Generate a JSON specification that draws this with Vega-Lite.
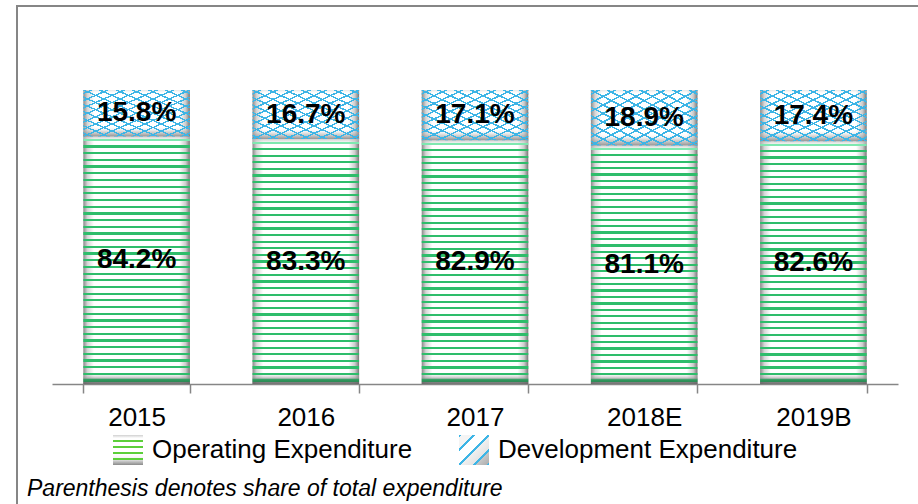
{
  "$schema": "https://vega.github.io/schema/vega-lite/v6.json",
  "autosize": {"type": "none"},
  "width": 905,
  "height": 502,
  "padding": {"left": 17, "top": 6, "right": -4, "bottom": -4},
  "background": "#ffffff",
  "config": {
    "view": {"stroke": "#868686", "strokeWidth": 2},
    "font": "Liberation Sans"
  },
  "title": {
    "text": "Parenthesis denotes share of total expenditure",
    "orient": "bottom",
    "anchor": "start",
    "frame": "group",
    "offset": -12,
    "baseline": "alphabetic",
    "dx": 10,
    "font": "Liberation Sans",
    "fontSize": 23,
    "fontStyle": "italic",
    "fontWeight": "normal",
    "color": "#000000"
  },
  "data": {
    "values": [
      {"year": "2015", "type": "Operating Expenditure", "value": 84.2, "order": 1},
      {"year": "2015", "type": "Development Expenditure", "value": 15.8, "order": 2},
      {"year": "2016", "type": "Operating Expenditure", "value": 83.3, "order": 1},
      {"year": "2016", "type": "Development Expenditure", "value": 16.7, "order": 2},
      {"year": "2017", "type": "Operating Expenditure", "value": 82.9, "order": 1},
      {"year": "2017", "type": "Development Expenditure", "value": 17.1, "order": 2},
      {"year": "2018E", "type": "Operating Expenditure", "value": 81.1, "order": 1},
      {"year": "2018E", "type": "Development Expenditure", "value": 18.9, "order": 2},
      {"year": "2019B", "type": "Operating Expenditure", "value": 82.6, "order": 1},
      {"year": "2019B", "type": "Development Expenditure", "value": 17.4, "order": 2}
    ]
  },
  "transform": [
    {"stack": "value", "groupby": ["year"], "sort": [{"field": "order", "order": "ascending"}], "as": ["v0", "v1"]},
    {"calculate": "(datum.v0 + datum.v1) / 2", "as": "mid"},
    {"calculate": "format(datum.value, '.1f') + '%'", "as": "label"}
  ],
  "encoding": {
    "x": {
      "field": "year",
      "type": "nominal",
      "sort": null,
      "scale": {"range": [35, 881], "paddingInner": 0.37, "paddingOuter": 0.185},
      "axis": {
        "title": null,
        "orient": "bottom",
        "offset": -124,
        "labelAngle": 0,
        "labelFont": "Liberation Sans",
        "labelFontSize": 26,
        "labelColor": "#000000",
        "labelBaseline": "alphabetic",
        "labelPadding": 32,
        "tickBand": "extent",
        "tickSize": 9,
        "tickColor": "#868686",
        "tickWidth": 1.5,
        "domainColor": "#868686",
        "domainWidth": 1.5,
        "grid": false
      }
    }
  },
  "resolve": {"scale": {"opacity": "independent"}, "legend": {"opacity": "independent"}},
  "layer": [
    {
      "mark": {
        "type": "bar",
        "fill": {
          "gradient": "linear", "x1": 0, "y1": 0, "x2": 1, "y2": 0,
          "stops": [
            {"offset": 0, "color": "#8a8a8a"},
            {"offset": 0.04, "color": "#d6d6d6"},
            {"offset": 0.1, "color": "#ffffff"},
            {"offset": 0.9, "color": "#ffffff"},
            {"offset": 0.96, "color": "#cdcdcd"},
            {"offset": 1, "color": "#777777"}
          ]
        }
      },
      "encoding": {
        "y": {"field": "v0", "type": "quantitative", "scale": {"domain": [0, 100], "range": [378, 84], "nice": false, "zero": true}, "axis": null},
        "y2": {"field": "v1"}
      }
    },
    {
      "transform": [{"filter": "datum.type === 'Operating Expenditure'"}],
      "mark": {
        "type": "bar",
        "fill": {
          "gradient": "linear", "x1": 0, "y1": 0, "x2": 0, "y2": 1,
          "stops": [
            {"offset": 0, "color": "rgba(190,190,190,0.7)"}, {"offset": 0.012, "color": "rgba(220,220,220,0.4)"}, {"offset": 0.012, "color": "#7ee8b0"}, {"offset": 0.018, "color": "#7ee8b0"}, {"offset": 0.018, "color": "rgba(255,255,255,0)"},
            {"offset": 0.036, "color": "rgba(255,255,255,0)"}, {"offset": 0.036, "color": "#2ebd6b"}, {"offset": 0.045, "color": "#2ebd6b"}, {"offset": 0.045, "color": "rgba(255,255,255,0)"},
            {"offset": 0.0631, "color": "rgba(255,255,255,0)"}, {"offset": 0.0631, "color": "#2ebd6b"}, {"offset": 0.0721, "color": "#2ebd6b"}, {"offset": 0.0721, "color": "rgba(255,255,255,0)"},
            {"offset": 0.0901, "color": "rgba(255,255,255,0)"}, {"offset": 0.0901, "color": "#2ebd6b"}, {"offset": 0.0991, "color": "#2ebd6b"}, {"offset": 0.0991, "color": "rgba(255,255,255,0)"},
            {"offset": 0.1171, "color": "rgba(255,255,255,0)"}, {"offset": 0.1171, "color": "#2ebd6b"}, {"offset": 0.1261, "color": "#2ebd6b"}, {"offset": 0.1261, "color": "rgba(255,255,255,0)"},
            {"offset": 0.1441, "color": "rgba(255,255,255,0)"}, {"offset": 0.1441, "color": "#2ebd6b"}, {"offset": 0.1531, "color": "#2ebd6b"}, {"offset": 0.1531, "color": "rgba(255,255,255,0)"},
            {"offset": 0.1712, "color": "rgba(255,255,255,0)"}, {"offset": 0.1712, "color": "#2ebd6b"}, {"offset": 0.1802, "color": "#2ebd6b"}, {"offset": 0.1802, "color": "rgba(255,255,255,0)"},
            {"offset": 0.1982, "color": "rgba(255,255,255,0)"}, {"offset": 0.1982, "color": "#2ebd6b"}, {"offset": 0.2072, "color": "#2ebd6b"}, {"offset": 0.2072, "color": "rgba(255,255,255,0)"},
            {"offset": 0.2252, "color": "rgba(255,255,255,0)"}, {"offset": 0.2252, "color": "#2ebd6b"}, {"offset": 0.2342, "color": "#2ebd6b"}, {"offset": 0.2342, "color": "rgba(255,255,255,0)"},
            {"offset": 0.2523, "color": "rgba(255,255,255,0)"}, {"offset": 0.2523, "color": "#2ebd6b"}, {"offset": 0.2613, "color": "#2ebd6b"}, {"offset": 0.2613, "color": "rgba(255,255,255,0)"},
            {"offset": 0.2793, "color": "rgba(255,255,255,0)"}, {"offset": 0.2793, "color": "#2ebd6b"}, {"offset": 0.2883, "color": "#2ebd6b"}, {"offset": 0.2883, "color": "rgba(255,255,255,0)"},
            {"offset": 0.3063, "color": "rgba(255,255,255,0)"}, {"offset": 0.3063, "color": "#2ebd6b"}, {"offset": 0.3153, "color": "#2ebd6b"}, {"offset": 0.3153, "color": "rgba(255,255,255,0)"},
            {"offset": 0.3333, "color": "rgba(255,255,255,0)"}, {"offset": 0.3333, "color": "#2ebd6b"}, {"offset": 0.3423, "color": "#2ebd6b"}, {"offset": 0.3423, "color": "rgba(255,255,255,0)"},
            {"offset": 0.3604, "color": "rgba(255,255,255,0)"}, {"offset": 0.3604, "color": "#2ebd6b"}, {"offset": 0.3694, "color": "#2ebd6b"}, {"offset": 0.3694, "color": "rgba(255,255,255,0)"},
            {"offset": 0.3874, "color": "rgba(255,255,255,0)"}, {"offset": 0.3874, "color": "#2ebd6b"}, {"offset": 0.3964, "color": "#2ebd6b"}, {"offset": 0.3964, "color": "rgba(255,255,255,0)"},
            {"offset": 0.4144, "color": "rgba(255,255,255,0)"}, {"offset": 0.4144, "color": "#2ebd6b"}, {"offset": 0.4234, "color": "#2ebd6b"}, {"offset": 0.4234, "color": "rgba(255,255,255,0)"},
            {"offset": 0.4414, "color": "rgba(255,255,255,0)"}, {"offset": 0.4414, "color": "#2ebd6b"}, {"offset": 0.4504, "color": "#2ebd6b"}, {"offset": 0.4504, "color": "rgba(255,255,255,0)"},
            {"offset": 0.4685, "color": "rgba(255,255,255,0)"}, {"offset": 0.4685, "color": "#2ebd6b"}, {"offset": 0.4775, "color": "#2ebd6b"}, {"offset": 0.4775, "color": "rgba(255,255,255,0)"},
            {"offset": 0.4955, "color": "rgba(255,255,255,0)"}, {"offset": 0.4955, "color": "#2ebd6b"}, {"offset": 0.5045, "color": "#2ebd6b"}, {"offset": 0.5045, "color": "rgba(255,255,255,0)"},
            {"offset": 0.5225, "color": "rgba(255,255,255,0)"}, {"offset": 0.5225, "color": "#2ebd6b"}, {"offset": 0.5315, "color": "#2ebd6b"}, {"offset": 0.5315, "color": "rgba(255,255,255,0)"},
            {"offset": 0.5496, "color": "rgba(255,255,255,0)"}, {"offset": 0.5496, "color": "#2ebd6b"}, {"offset": 0.5586, "color": "#2ebd6b"}, {"offset": 0.5586, "color": "rgba(255,255,255,0)"},
            {"offset": 0.5766, "color": "rgba(255,255,255,0)"}, {"offset": 0.5766, "color": "#2ebd6b"}, {"offset": 0.5856, "color": "#2ebd6b"}, {"offset": 0.5856, "color": "rgba(255,255,255,0)"},
            {"offset": 0.6036, "color": "rgba(255,255,255,0)"}, {"offset": 0.6036, "color": "#2ebd6b"}, {"offset": 0.6126, "color": "#2ebd6b"}, {"offset": 0.6126, "color": "rgba(255,255,255,0)"},
            {"offset": 0.6306, "color": "rgba(255,255,255,0)"}, {"offset": 0.6306, "color": "#2ebd6b"}, {"offset": 0.6396, "color": "#2ebd6b"}, {"offset": 0.6396, "color": "rgba(255,255,255,0)"},
            {"offset": 0.6577, "color": "rgba(255,255,255,0)"}, {"offset": 0.6577, "color": "#2ebd6b"}, {"offset": 0.6667, "color": "#2ebd6b"}, {"offset": 0.6667, "color": "rgba(255,255,255,0)"},
            {"offset": 0.6847, "color": "rgba(255,255,255,0)"}, {"offset": 0.6847, "color": "#2ebd6b"}, {"offset": 0.6937, "color": "#2ebd6b"}, {"offset": 0.6937, "color": "rgba(255,255,255,0)"},
            {"offset": 0.7117, "color": "rgba(255,255,255,0)"}, {"offset": 0.7117, "color": "#2ebd6b"}, {"offset": 0.7207, "color": "#2ebd6b"}, {"offset": 0.7207, "color": "rgba(255,255,255,0)"},
            {"offset": 0.7387, "color": "rgba(255,255,255,0)"}, {"offset": 0.7387, "color": "#2ebd6b"}, {"offset": 0.7477, "color": "#2ebd6b"}, {"offset": 0.7477, "color": "rgba(255,255,255,0)"},
            {"offset": 0.7658, "color": "rgba(255,255,255,0)"}, {"offset": 0.7658, "color": "#2ebd6b"}, {"offset": 0.7748, "color": "#2ebd6b"}, {"offset": 0.7748, "color": "rgba(255,255,255,0)"},
            {"offset": 0.7928, "color": "rgba(255,255,255,0)"}, {"offset": 0.7928, "color": "#2ebd6b"}, {"offset": 0.8018, "color": "#2ebd6b"}, {"offset": 0.8018, "color": "rgba(255,255,255,0)"},
            {"offset": 0.8198, "color": "rgba(255,255,255,0)"}, {"offset": 0.8198, "color": "#2ebd6b"}, {"offset": 0.8288, "color": "#2ebd6b"}, {"offset": 0.8288, "color": "rgba(255,255,255,0)"},
            {"offset": 0.8469, "color": "rgba(255,255,255,0)"}, {"offset": 0.8469, "color": "#2ebd6b"}, {"offset": 0.8559, "color": "#2ebd6b"}, {"offset": 0.8559, "color": "rgba(255,255,255,0)"},
            {"offset": 0.8739, "color": "rgba(255,255,255,0)"}, {"offset": 0.8739, "color": "#2ebd6b"}, {"offset": 0.8829, "color": "#2ebd6b"}, {"offset": 0.8829, "color": "rgba(255,255,255,0)"},
            {"offset": 0.9009, "color": "rgba(255,255,255,0)"}, {"offset": 0.9009, "color": "#2ebd6b"}, {"offset": 0.9099, "color": "#2ebd6b"}, {"offset": 0.9099, "color": "rgba(255,255,255,0)"},
            {"offset": 0.9279, "color": "rgba(255,255,255,0)"}, {"offset": 0.9279, "color": "#2ebd6b"}, {"offset": 0.9369, "color": "#2ebd6b"}, {"offset": 0.9369, "color": "rgba(255,255,255,0)"},
            {"offset": 0.955, "color": "rgba(255,255,255,0)"}, {"offset": 0.955, "color": "#2ebd6b"}, {"offset": 0.964, "color": "#2ebd6b"}, {"offset": 0.964, "color": "rgba(200,200,200,0.3)"},
            {"offset": 0.975, "color": "rgba(160,160,160,0.6)"}, {"offset": 0.982, "color": "#2e9c5e"}, {"offset": 0.991, "color": "#2e8a56"}, {"offset": 0.991, "color": "rgba(110,110,110,0.85)"}, {"offset": 1, "color": "rgba(100,100,100,0.9)"}
          ]
        }
      },
      "encoding": {
        "y": {"field": "v0", "type": "quantitative", "axis": null},
        "y2": {"field": "v1"}
      }
    },
    {
      "transform": [{"filter": "datum.type === 'Development Expenditure'"}],
      "mark": {
        "type": "bar",
        "fill": {
          "gradient": "linear", "x1": 0, "y1": 0, "x2": 0, "y2": 1,
          "stops": [
            {"offset": 0, "color": "rgba(200,200,200,0.45)"},
            {"offset": 0.08, "color": "rgba(255,255,255,0)"},
            {"offset": 0.78, "color": "rgba(255,255,255,0)"},
            {"offset": 0.9, "color": "rgba(170,170,170,0.5)"},
            {"offset": 1, "color": "rgba(120,120,120,0.8)"}
          ]
        }
      },
      "encoding": {
        "y": {"field": "v0", "type": "quantitative", "axis": null},
        "y2": {"field": "v1"}
      }
    },
    {
      "transform": [{"filter": "datum.type === 'Development Expenditure'"}],
      "mark": {
        "type": "bar",
        "fill": {
          "gradient": "linear", "x1": 0, "y1": 0, "x2": 1, "y2": 1,
          "stops": [
            {"offset": 0.0305, "color": "rgba(255,255,255,0)"}, {"offset": 0.0305, "color": "#3db5e6"}, {"offset": 0.0465, "color": "#3db5e6"}, {"offset": 0.0465, "color": "rgba(255,255,255,0)"},
            {"offset": 0.1074, "color": "rgba(255,255,255,0)"}, {"offset": 0.1074, "color": "#3db5e6"}, {"offset": 0.1234, "color": "#3db5e6"}, {"offset": 0.1234, "color": "rgba(255,255,255,0)"},
            {"offset": 0.1843, "color": "rgba(255,255,255,0)"}, {"offset": 0.1843, "color": "#3db5e6"}, {"offset": 0.2003, "color": "#3db5e6"}, {"offset": 0.2003, "color": "rgba(255,255,255,0)"},
            {"offset": 0.2612, "color": "rgba(255,255,255,0)"}, {"offset": 0.2612, "color": "#3db5e6"}, {"offset": 0.2772, "color": "#3db5e6"}, {"offset": 0.2772, "color": "rgba(255,255,255,0)"},
            {"offset": 0.3382, "color": "rgba(255,255,255,0)"}, {"offset": 0.3382, "color": "#3db5e6"}, {"offset": 0.3542, "color": "#3db5e6"}, {"offset": 0.3542, "color": "rgba(255,255,255,0)"},
            {"offset": 0.4151, "color": "rgba(255,255,255,0)"}, {"offset": 0.4151, "color": "#3db5e6"}, {"offset": 0.4311, "color": "#3db5e6"}, {"offset": 0.4311, "color": "rgba(255,255,255,0)"},
            {"offset": 0.492, "color": "rgba(255,255,255,0)"}, {"offset": 0.492, "color": "#3db5e6"}, {"offset": 0.508, "color": "#3db5e6"}, {"offset": 0.508, "color": "rgba(255,255,255,0)"},
            {"offset": 0.5689, "color": "rgba(255,255,255,0)"}, {"offset": 0.5689, "color": "#3db5e6"}, {"offset": 0.5849, "color": "#3db5e6"}, {"offset": 0.5849, "color": "rgba(255,255,255,0)"},
            {"offset": 0.6458, "color": "rgba(255,255,255,0)"}, {"offset": 0.6458, "color": "#3db5e6"}, {"offset": 0.6618, "color": "#3db5e6"}, {"offset": 0.6618, "color": "rgba(255,255,255,0)"},
            {"offset": 0.7228, "color": "rgba(255,255,255,0)"}, {"offset": 0.7228, "color": "#3db5e6"}, {"offset": 0.7388, "color": "#3db5e6"}, {"offset": 0.7388, "color": "rgba(255,255,255,0)"},
            {"offset": 0.7997, "color": "rgba(255,255,255,0)"}, {"offset": 0.7997, "color": "#3db5e6"}, {"offset": 0.8157, "color": "#3db5e6"}, {"offset": 0.8157, "color": "rgba(255,255,255,0)"},
            {"offset": 0.8766, "color": "rgba(255,255,255,0)"}, {"offset": 0.8766, "color": "#3db5e6"}, {"offset": 0.8926, "color": "#3db5e6"}, {"offset": 0.8926, "color": "rgba(255,255,255,0)"},
            {"offset": 0.9535, "color": "rgba(255,255,255,0)"}, {"offset": 0.9535, "color": "#3db5e6"}, {"offset": 0.9695, "color": "#3db5e6"}, {"offset": 0.9695, "color": "rgba(255,255,255,0)"}
          ]
        }
      },
      "encoding": {
        "y": {"field": "v0", "type": "quantitative", "axis": null},
        "y2": {"field": "v1"}
      }
    },
    {
      "transform": [{"filter": "datum.type === 'Development Expenditure'"}],
      "mark": {
        "type": "bar",
        "fill": {
          "gradient": "linear", "x1": 1, "y1": 0, "x2": 0, "y2": 1,
          "stops": [
            {"offset": 0.0305, "color": "rgba(255,255,255,0)"}, {"offset": 0.0305, "color": "#3db5e6"}, {"offset": 0.0465, "color": "#3db5e6"}, {"offset": 0.0465, "color": "rgba(255,255,255,0)"},
            {"offset": 0.1074, "color": "rgba(255,255,255,0)"}, {"offset": 0.1074, "color": "#3db5e6"}, {"offset": 0.1234, "color": "#3db5e6"}, {"offset": 0.1234, "color": "rgba(255,255,255,0)"},
            {"offset": 0.1843, "color": "rgba(255,255,255,0)"}, {"offset": 0.1843, "color": "#3db5e6"}, {"offset": 0.2003, "color": "#3db5e6"}, {"offset": 0.2003, "color": "rgba(255,255,255,0)"},
            {"offset": 0.2612, "color": "rgba(255,255,255,0)"}, {"offset": 0.2612, "color": "#3db5e6"}, {"offset": 0.2772, "color": "#3db5e6"}, {"offset": 0.2772, "color": "rgba(255,255,255,0)"},
            {"offset": 0.3382, "color": "rgba(255,255,255,0)"}, {"offset": 0.3382, "color": "#3db5e6"}, {"offset": 0.3542, "color": "#3db5e6"}, {"offset": 0.3542, "color": "rgba(255,255,255,0)"},
            {"offset": 0.4151, "color": "rgba(255,255,255,0)"}, {"offset": 0.4151, "color": "#3db5e6"}, {"offset": 0.4311, "color": "#3db5e6"}, {"offset": 0.4311, "color": "rgba(255,255,255,0)"},
            {"offset": 0.492, "color": "rgba(255,255,255,0)"}, {"offset": 0.492, "color": "#3db5e6"}, {"offset": 0.508, "color": "#3db5e6"}, {"offset": 0.508, "color": "rgba(255,255,255,0)"},
            {"offset": 0.5689, "color": "rgba(255,255,255,0)"}, {"offset": 0.5689, "color": "#3db5e6"}, {"offset": 0.5849, "color": "#3db5e6"}, {"offset": 0.5849, "color": "rgba(255,255,255,0)"},
            {"offset": 0.6458, "color": "rgba(255,255,255,0)"}, {"offset": 0.6458, "color": "#3db5e6"}, {"offset": 0.6618, "color": "#3db5e6"}, {"offset": 0.6618, "color": "rgba(255,255,255,0)"},
            {"offset": 0.7228, "color": "rgba(255,255,255,0)"}, {"offset": 0.7228, "color": "#3db5e6"}, {"offset": 0.7388, "color": "#3db5e6"}, {"offset": 0.7388, "color": "rgba(255,255,255,0)"},
            {"offset": 0.7997, "color": "rgba(255,255,255,0)"}, {"offset": 0.7997, "color": "#3db5e6"}, {"offset": 0.8157, "color": "#3db5e6"}, {"offset": 0.8157, "color": "rgba(255,255,255,0)"},
            {"offset": 0.8766, "color": "rgba(255,255,255,0)"}, {"offset": 0.8766, "color": "#3db5e6"}, {"offset": 0.8926, "color": "#3db5e6"}, {"offset": 0.8926, "color": "rgba(255,255,255,0)"},
            {"offset": 0.9535, "color": "rgba(255,255,255,0)"}, {"offset": 0.9535, "color": "#3db5e6"}, {"offset": 0.9695, "color": "#3db5e6"}, {"offset": 0.9695, "color": "rgba(255,255,255,0)"}
          ]
        }
      },
      "encoding": {
        "y": {"field": "v0", "type": "quantitative", "axis": null},
        "y2": {"field": "v1"}
      }
    },
    {
      "transform": [{"filter": "datum.type === 'none'"}],
      "mark": {
        "type": "bar",
        "fill": {
          "gradient": "linear", "x1": 0, "y1": 0, "x2": 0, "y2": 1,
          "stops": [
            {"offset": 0, "color": "#d0d0d0"}, {"offset": 0.1, "color": "#ffffff"},
            {"offset": 0.165, "color": "#ffffff"}, {"offset": 0.165, "color": "#5ccf3a"}, {"offset": 0.235, "color": "#5ccf3a"}, {"offset": 0.235, "color": "#ffffff"},
            {"offset": 0.365, "color": "#ffffff"}, {"offset": 0.365, "color": "#5ccf3a"}, {"offset": 0.435, "color": "#5ccf3a"}, {"offset": 0.435, "color": "#ffffff"},
            {"offset": 0.565, "color": "#ffffff"}, {"offset": 0.565, "color": "#5ccf3a"}, {"offset": 0.635, "color": "#5ccf3a"}, {"offset": 0.635, "color": "#ffffff"},
            {"offset": 0.765, "color": "#f4f4f4"}, {"offset": 0.765, "color": "#5ccf3a"}, {"offset": 0.835, "color": "#5ccf3a"}, {"offset": 0.835, "color": "#dcdcdc"},
            {"offset": 1, "color": "#8a8a8a"}
          ]
        }
      },
      "encoding": {
        "y": {"field": "v0", "type": "quantitative", "axis": null},
        "y2": {"field": "v1"},
        "opacity": {
          "field": "type",
          "type": "nominal",
          "scale": {"domain": ["Operating Expenditure"], "range": [1, 1]},
          "legend": {
            "orient": "none",
            "legendX": 96,
            "legendY": 429,
            "title": null,
            "symbolType": "square",
            "symbolSize": 900,
            "symbolStrokeWidth": 0,
            "labelFont": "Liberation Sans",
            "labelFontSize": 26,
            "labelColor": "#000000",
            "labelOffset": 9,
            "labelLimit": 400,
            "padding": 0
          }
        }
      }
    },
    {
      "transform": [{"filter": "datum.type === 'none'"}],
      "mark": {
        "type": "bar",
        "fill": {
          "gradient": "linear", "x1": 0, "y1": 0, "x2": 1, "y2": 1,
          "stops": [
            {"offset": 0, "color": "#3db5e6"}, {"offset": 0.04, "color": "#3db5e6"}, {"offset": 0.04, "color": "#f4f4f4"},
            {"offset": 0.23, "color": "#f4f4f4"}, {"offset": 0.23, "color": "#3db5e6"}, {"offset": 0.27, "color": "#3db5e6"}, {"offset": 0.27, "color": "#ffffff"},
            {"offset": 0.48, "color": "#ffffff"}, {"offset": 0.48, "color": "#3db5e6"}, {"offset": 0.52, "color": "#3db5e6"}, {"offset": 0.52, "color": "#f0f0f0"},
            {"offset": 0.73, "color": "#e4e4e4"}, {"offset": 0.73, "color": "#3db5e6"}, {"offset": 0.77, "color": "#3db5e6"}, {"offset": 0.77, "color": "#c8c8c8"},
            {"offset": 0.96, "color": "#b0b0b0"}, {"offset": 0.96, "color": "#3db5e6"}, {"offset": 1, "color": "#3db5e6"}
          ]
        }
      },
      "encoding": {
        "y": {"field": "v0", "type": "quantitative", "axis": null},
        "y2": {"field": "v1"},
        "opacity": {
          "field": "type",
          "type": "nominal",
          "scale": {"domain": ["Development Expenditure"], "range": [1, 1]},
          "legend": {
            "orient": "none",
            "legendX": 442,
            "legendY": 429,
            "title": null,
            "symbolType": "square",
            "symbolSize": 900,
            "symbolStrokeWidth": 0,
            "labelFont": "Liberation Sans",
            "labelFontSize": 26,
            "labelColor": "#000000",
            "labelOffset": 9,
            "labelLimit": 400,
            "padding": 0
          }
        }
      }
    },
    {
      "mark": {"type": "text", "font": "Liberation Sans", "fontSize": 28, "fontWeight": "bold", "baseline": "middle", "align": "center", "fill": "#000000"},
      "encoding": {
        "y": {"field": "mid", "type": "quantitative", "axis": null},
        "text": {"field": "label", "type": "nominal"}
      }
    }
  ]
}
